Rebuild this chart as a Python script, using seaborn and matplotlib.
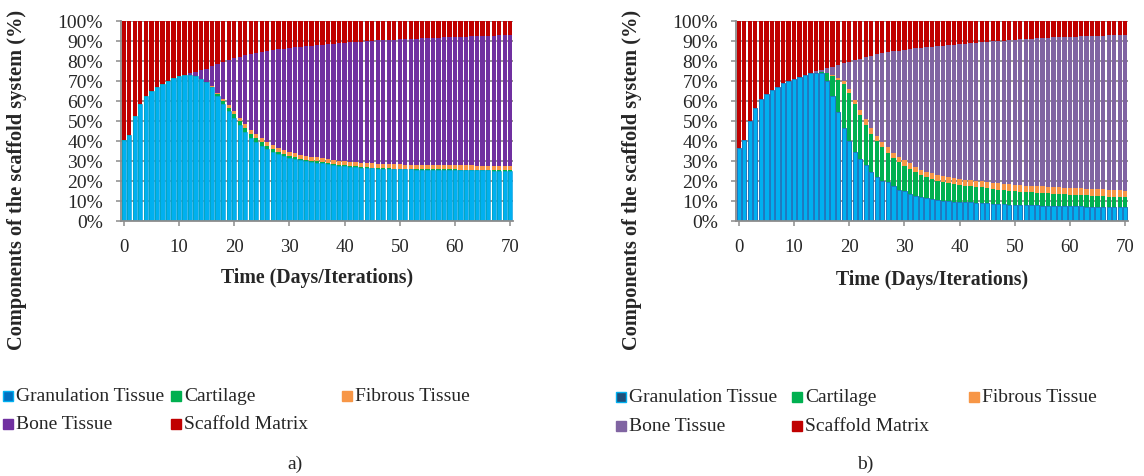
import numpy as np
import pandas as pd
import matplotlib
matplotlib.use("Agg")
import matplotlib.pyplot as plt
from matplotlib.patches import Rectangle
from matplotlib.ticker import MultipleLocator, FuncFormatter
import seaborn as sns

# ---------------------------------------------------------------- data
days = list(range(71))
tissues = ["Granulation Tissue", "Cartilage", "Fibrous Tissue", "Bone Tissue", "Scaffold Matrix"]

# scenario a)
gran_a = [40.5, 43.0, 52.5, 58.5, 62.5, 65.0, 67.0, 68.5, 70.0, 71.5, 72.5, 73.0, 73.0, 72.5, 71.0,
          69.3, 66.8, 62.5, 58.5, 55.0, 51.5, 48.0, 44.5, 41.5, 39.5, 37.7, 36.0, 34.5, 33.5, 32.5,
          31.5, 31.0, 30.5, 30.0, 29.6, 29.2, 28.8, 28.4, 28.0, 27.7, 27.4, 27.1, 26.9, 26.7, 26.5,
          26.3, 26.2, 26.1, 26.0, 25.9, 25.9, 25.8, 25.8, 25.7, 25.7, 25.6, 25.6, 25.6, 25.5, 25.5,
          25.5, 25.4, 25.4, 25.4, 25.3, 25.3, 25.3, 25.2, 25.2, 25.2, 25.1]
cart_a = [0.0] * 16 + [0.3, 1.0, 1.5, 1.7, 1.8, 2.0, 2.0, 1.9, 1.8, 1.6, 1.5, 1.3, 1.1, 1.0, 0.9,
                       0.8, 0.7, 0.7, 0.6, 0.6, 0.5, 0.5, 0.5, 0.4, 0.4, 0.4, 0.4, 0.4, 0.4, 0.4,
                       0.3, 0.3, 0.3, 0.3, 0.3, 0.3, 0.3, 0.3, 0.3, 0.3, 0.3, 0.3, 0.3, 0.3, 0.3,
                       0.3, 0.3, 0.3, 0.3, 0.3, 0.3, 0.3, 0.3, 0.3, 0.3]
fib_a = [0.0] * 16 + [0.2, 0.5, 1.0, 1.3, 1.5, 1.7, 1.8, 1.9, 2.0, 2.0, 2.0, 2.0, 2.0, 2.0, 2.0,
                      2.0, 2.0, 2.0, 2.0, 2.0, 2.0, 2.0, 2.0, 2.0, 2.0, 2.1, 2.1, 2.1, 2.1, 2.1,
                      2.1, 2.1, 2.1, 2.1, 2.1, 2.1, 2.1, 2.1, 2.1, 2.1, 2.1, 2.1, 2.1, 2.1, 2.1,
                      2.1, 2.1, 2.1, 2.1, 2.1, 2.1, 2.1, 2.1, 2.1, 2.1]
bone_a = [0.0] * 12 + [0.8, 2.0, 4.3, 6.9, 10.2, 14.5, 18.5, 22.5, 26.5, 30.3, 34.5, 38.1, 40.7,
                       43.2, 45.5, 47.6, 49.2, 50.7, 52.1, 53.0, 53.9, 54.7, 55.5, 56.2, 56.9, 57.6,
                       58.2, 58.8, 59.3, 59.7, 60.1, 60.5, 60.9, 61.3, 61.7, 61.9, 62.2, 62.4, 62.6,
                       62.8, 62.9, 63.1, 63.3, 63.5, 63.6, 63.7, 63.9, 64.0, 64.1, 64.3, 64.4, 64.5,
                       64.7, 64.8, 64.9, 65.1, 65.2, 65.3, 65.5]
scaf_a = [59.5, 57.0, 47.5, 41.5, 37.5, 35.0, 33.0, 31.5, 30.0, 28.5, 27.5, 27.0, 26.2, 25.5, 24.7,
          23.8, 22.5, 21.5, 20.5, 19.5, 18.7, 18.0, 17.2, 16.6, 16.0, 15.5, 15.0, 14.6, 14.2, 13.8,
          13.5, 13.2, 12.9, 12.6, 12.3, 12.0, 11.8, 11.5, 11.3, 11.1, 10.9, 10.7, 10.5, 10.3, 10.1,
          9.9, 9.7, 9.6, 9.4, 9.3, 9.1, 9.0, 8.9, 8.8, 8.6, 8.5, 8.4, 8.3, 8.2, 8.1,
          8.0, 7.9, 7.8, 7.7, 7.6, 7.5, 7.4, 7.3, 7.2, 7.1, 7.0]

# scenario b)
gran_b = [36.5, 40.7, 49.8, 56.5, 61.0, 63.5, 65.5, 67.2, 68.8, 70.2, 71.0, 72.2, 73.0, 73.8, 74.2,
          74.0, 69.8, 62.7, 54.3, 46.5, 40.2, 34.7, 31.0, 28.0, 24.7, 22.2, 20.2, 19.3, 17.7, 15.7,
          14.8, 13.5, 12.7, 11.8, 11.3, 11.0, 10.7, 10.2, 9.8, 9.7, 9.3, 9.3, 9.3, 9.2, 9.0,
          8.8, 8.6, 8.5, 8.4, 8.2, 8.0, 7.9, 7.9, 7.8, 7.8, 7.7, 7.6, 7.6, 7.5, 7.4,
          7.4, 7.3, 7.3, 7.2, 7.2, 7.1, 7.0, 7.0, 6.9, 6.9, 6.8]
cart_b = [0.0] * 15 + [0.3, 4.0, 9.8, 16.2, 22.0, 23.6, 23.8, 22.0, 20.0, 18.8, 17.6, 16.6, 14.7,
                       13.6, 13.6, 12.9, 12.5, 11.6, 11.2, 10.5, 10.0, 9.5, 9.5, 9.2, 8.8, 8.9,
                       8.4, 8.0, 8.0, 7.8, 7.5, 7.3, 7.1, 7.0, 6.9, 6.8, 6.7, 6.5, 6.5, 6.3,
                       6.3, 6.2, 6.0, 5.9, 5.9, 5.7, 5.7, 5.6, 5.6, 5.5, 5.4, 5.4, 5.2, 5.2,
                       5.1, 5.0]
fib_b = [0.0] * 16 + [0.2, 0.5, 1.0, 1.7, 2.2, 2.2, 2.5, 2.8, 3.0, 2.9, 2.5, 2.8, 2.7, 2.9, 2.8,
                      2.8, 2.9, 2.7, 2.9, 2.8, 2.8, 2.6, 2.8, 3.0, 2.8, 3.0, 3.2, 3.0, 3.0, 3.4,
                      3.3, 3.3, 3.3, 3.3, 3.3, 3.3, 3.3, 3.3, 3.3, 3.3, 3.3, 3.3, 3.4, 3.3, 3.4,
                      3.4, 3.4, 3.4, 3.4, 3.4, 3.4, 3.4, 3.4, 3.4, 3.4]
bone_b = [0.0] * 13 + [0.3, 0.8, 1.2, 2.3, 4.2, 6.5, 8.6, 13.6, 19.7, 25.7, 31.2, 36.2, 40.6, 44.6,
                       47.6, 50.8, 53.0, 55.1, 57.2, 59.1, 60.9, 62.2, 63.4, 64.5, 65.4, 66.1,
                       66.6, 67.3, 67.9, 68.3, 68.8, 69.5, 69.9, 70.6, 71.1, 71.5, 72.0, 72.5,
                       72.9, 73.3, 73.6, 73.9, 74.2, 74.5, 74.9, 75.1, 75.4, 75.6, 75.8, 76.0,
                       76.2, 76.4, 76.7, 76.9, 77.2, 77.4, 77.6, 78.0]
scaf_b = [63.5, 59.3, 50.2, 43.5, 39.0, 36.5, 34.5, 32.8, 31.2, 29.8, 29.0, 27.8, 27.0, 25.9, 25.0,
          24.5, 23.7, 22.8, 22.0, 21.2, 20.4, 19.6, 18.8, 18.0, 17.3, 16.7, 16.1, 15.6, 15.2, 14.8,
          14.4, 14.0, 13.7, 13.4, 13.1, 12.8, 12.5, 12.3, 12.1, 11.9, 11.7, 11.4, 11.2, 11.0, 10.7,
          10.4, 10.2, 10.0, 9.8, 9.6, 9.4, 9.2, 9.0, 8.8, 8.7, 8.5, 8.4, 8.2, 8.1, 8.0,
          7.9, 7.8, 7.7, 7.6, 7.5, 7.4, 7.3, 7.2, 7.1, 7.0, 6.8]

colors_a = ["#00B0F0", "#00B050", "#F79646", "#7030A0", "#C00000"]
colors_b = ["#00B0F0", "#00B050", "#F79646", "#8064A2", "#C00000"]
legend_face_a = ["#0070C0", "#00B050", "#F79646", "#7030A0", "#C00000"]
legend_face_b = ["#1F4E79", "#00B050", "#F79646", "#8064A2", "#C00000"]

# ---------------------------------------------------------------- style
sns.set_style("white")
plt.rcParams["font.family"] = ["Liberation Serif", "DejaVu Serif"]
plt.rcParams["axes.unicode_minus"] = False

W, H = 1144, 477
GRID = "#8C8C8C"
fig = plt.figure(figsize=(W / 100, H / 100), dpi=100)


def px_axes(left, top, right, bottom):
    return fig.add_axes([left / W, 1 - bottom / H, (right - left) / W, (bottom - top) / H])


def stacked_percent(ax, series, colors, blue_edge, edge_lw):
    df = pd.DataFrame({"day": days})
    for name, vals in zip(tissues, series):
        df[name] = vals
    total = df[tissues].sum(axis=1)
    shares = df[tissues].div(total, axis=0) * 100
    cum = shares.cumsum(axis=1)
    cum["day"] = df["day"]
    # draw from the full stack down to the first component so each layer shows its own slice
    for i in range(len(tissues) - 1, -1, -1):
        kw = dict(linewidth=0)
        if i == 0:
            kw = dict(linewidth=edge_lw, edgecolor=blue_edge)
        sns.barplot(data=cum, x="day", y=tissues[i], native_scale=True, color=colors[i],
                    saturation=1, width=0.78, errorbar=None, ax=ax, **kw)

    ax.set_xlim(-0.5, 70.5)
    ax.set_ylim(0, 100)
    ax.set_xlabel("")
    ax.set_ylabel("")
    ax.xaxis.set_major_locator(MultipleLocator(10))
    ax.xaxis.set_minor_locator(MultipleLocator(5))
    ax.yaxis.set_major_locator(MultipleLocator(10))
    ax.yaxis.set_major_formatter(FuncFormatter(lambda v, p: f"{v:.0f}%"))
    ax.set_axisbelow(True)
    ax.grid(axis="y", which="major", color=GRID, linewidth=1.3)
    ax.grid(axis="x", which="both", color=GRID, linewidth=1.3)
    for s in ("top", "right"):
        ax.spines[s].set_visible(False)
    for s in ("left", "bottom"):
        ax.spines[s].set_color(GRID)
        ax.spines[s].set_linewidth(1.3)
    ax.tick_params(axis="y", which="major", direction="out", length=3.6, width=1.1,
                   color=GRID, pad=9.4, labelsize=14, left=True)
    ax.tick_params(axis="x", which="major", direction="out", length=3.6, width=1.1,
                   color=GRID, pad=9.0, labelsize=13.5, bottom=True)
    ax.tick_params(axis="x", which="minor", length=0)


ax_a = px_axes(121, 22, 513, 222)
ax_b = px_axes(736, 22, 1128, 222)
stacked_percent(ax_a, [gran_a, cart_a, fib_a, bone_a, scaf_a], colors_a, "#0C9EE0", 0.4)
stacked_percent(ax_b, [gran_b, cart_b, fib_b, bone_b, scaf_b], colors_b, "#1F78C0", 0.7)

# axis titles
ylab = "Components of the scaffold system (%)"
xlab = "Time (Days/Iterations)"
fig.text(17 / W, 1 - 180 / H, ylab, rotation=90, ha="center", va="center",
         fontsize=14.7, fontweight="bold")
fig.text(632 / W, 1 - 180 / H, ylab, rotation=90, ha="center", va="center",
         fontsize=14.7, fontweight="bold")
fig.text(317 / W, 1 - 278 / H, xlab, ha="center", va="center", fontsize=14.3, fontweight="bold")
fig.text(932 / W, 1 - 280 / H, xlab, ha="center", va="center", fontsize=14.3, fontweight="bold")


# legends below each panel
def legend_block(col_x, row_y, faces, edge_first):
    order = [(0, 0, 0), (1, 1, 0), (2, 2, 0), (3, 0, 1), (4, 1, 1)]
    for idx, c, r in order:
        x, y = col_x[c], row_y[r]
        edge = edge_first if idx == 0 else faces[idx]
        fig.patches.append(Rectangle((x / W, 1 - (y + 5) / H), 10 / W, 10 / H,
                                     transform=fig.transFigure, facecolor=faces[idx],
                                     edgecolor=edge, linewidth=1.0))
        fig.text((x + 13) / W, 1 - y / H, tissues[idx], ha="left", va="center", fontsize=14)


legend_block([3, 171, 342], [397, 425], legend_face_a, "#00B0F0")
legend_block([616, 792, 969], [398, 427], legend_face_b, "#00B0F0")

fig.text(295 / W, 1 - 464 / H, "a)", ha="center", va="center", fontsize=14)
fig.text(865 / W, 1 - 464 / H, "b)", ha="center", va="center", fontsize=14)

fig.savefig("out.png", dpi=100, facecolor="white")
